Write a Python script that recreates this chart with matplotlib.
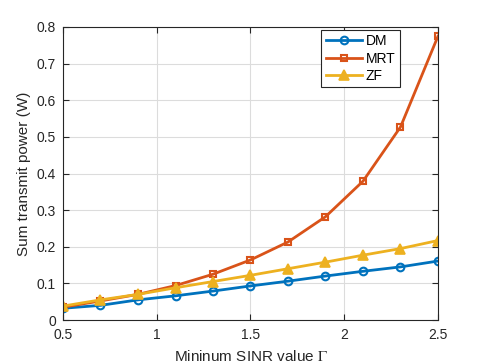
import matplotlib
matplotlib.use("Agg")
import matplotlib.pyplot as plt

gamma = [0.5, 0.7, 0.9, 1.1, 1.3, 1.5, 1.7, 1.9, 2.1, 2.3, 2.5]
dm = [0.032, 0.040, 0.055, 0.066, 0.079, 0.093, 0.106, 0.120, 0.133, 0.145, 0.161]
mrt = [0.035, 0.052, 0.070, 0.094, 0.125, 0.164, 0.213, 0.282, 0.379, 0.527, 0.775]
zf = [0.038, 0.055, 0.070, 0.088, 0.105, 0.122, 0.140, 0.158, 0.177, 0.195, 0.217]
xticks = [0.5, 1, 1.5, 2, 2.5]
yticks = [0, 0.1, 0.2, 0.3, 0.4, 0.5, 0.6, 0.7, 0.8]

plt.rcParams['font.family'] = ['Liberation Sans', 'DejaVu Sans']
plt.rcParams['mathtext.fontset'] = 'stix'

fig = plt.figure(figsize=(4.85, 3.63), dpi=100)
ax = fig.add_axes([63/485, 1 - 320/363, (438-63)/485, (320-27)/363])

ax.plot(gamma, dm, color='#0072BD', lw=2, marker='o', ms=5.5, mfc='none', mew=1.5, label='DM')
ax.plot(gamma, mrt, color='#D95319', lw=2, marker='s', ms=5, mfc='none', mew=1.5, label='MRT')
ax.plot(gamma, zf, color='#EDB120', lw=2, marker='^', ms=7, mfc='#EDB120', mew=1.2, label='ZF')

ax.set_xlim(0.5, 2.5)
ax.set_ylim(0, 0.8)
ax.set_xticks(xticks)
ax.set_xticklabels(['0.5', '1', '1.5', '2', '2.5'])
ax.set_yticks(yticks)
ax.set_yticklabels(['0', '0.1', '0.2', '0.3', '0.4', '0.5', '0.6', '0.7', '0.8'])
ax.tick_params(direction='in', labelsize=10, colors='#262626', length=4, top=True, right=True)
ax.tick_params(axis='x', pad=6)
ax.tick_params(axis='y', pad=5)
ax.grid(True, color='#dcdcdc', lw=0.8)
ax.set_axisbelow(True)
for s in ax.spines.values():
    s.set_color('#262626')
    s.set_linewidth(0.8)

ax.set_xlabel(r'Mininum SINR value $\Gamma$', fontsize=11, color='#262626', labelpad=5)
ax.set_ylabel('Sum transmit power (W)', fontsize=11, color='#262626')

leg = ax.legend(loc='upper right', bbox_to_anchor=(0.898, 0.99), fontsize=10,
                fancybox=False, framealpha=1, edgecolor='#262626',
                borderpad=0.3, labelspacing=0.25, handlelength=2.6, handletextpad=0.3,
                borderaxespad=0)
leg.get_frame().set_linewidth(0.8)

fig.savefig('out.png', dpi=100)
